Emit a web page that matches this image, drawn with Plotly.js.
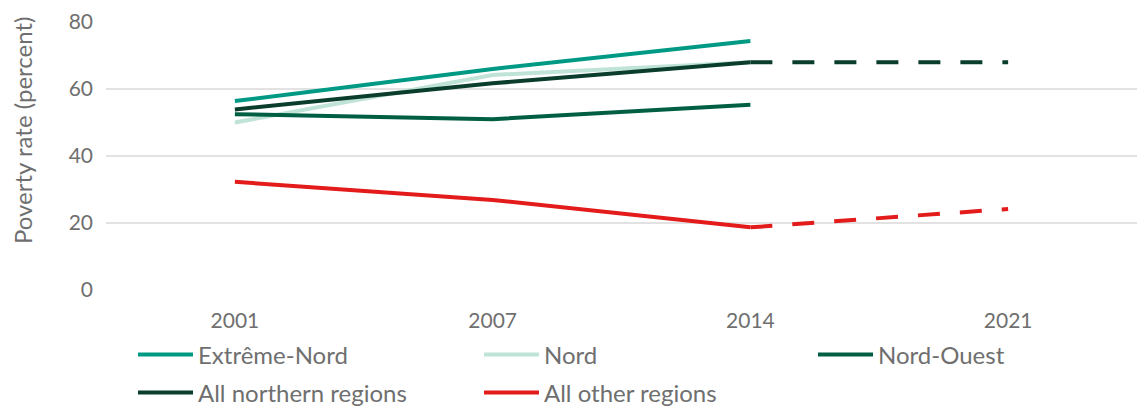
<!DOCTYPE html>
<html>
<head>
<meta charset="utf-8">
<script src="https://cdn.plot.ly/plotly-3.0.1.min.js"></script>
<style>html,body{margin:0;padding:0;background:#fff;}#chart{width:1137px;height:410px;}</style>
</head>
<body>
<div id="chart"></div>
<script>
const years = ['2001', '2007', '2014', '2021'];
const obsYears = ['2001', '2007', '2014'];
const projYears = ['2014', '2021'];
const extremeNord = [56.4, 66.0, 74.3];
const nord = [50.0, 64.2, 68.0];
const nordOuest = [52.5, 51.0, 55.3];
const allNorthern = [53.9, 61.7, 68.0];
const allOther = [32.3, 26.9, 18.7];
const allNorthernProj = [68.0, 68.0];
const allOtherProj = [18.7, 24.2];
const yTicks = [0, 20, 40, 60, 80];
const yTitle = 'Poverty rate (percent)';

const colors = {
  en: '#009a84', n: '#c0e3d7', no: '#005f43', an: '#0a3d2d', ao: '#e31b1b'
};
const lw = 4;
function solid(name, y, c, lg) {
  return {type: 'scatter', mode: 'lines', name: name, x: obsYears, y: y, legend: lg,
    line: {color: c, width: lw}, hoverinfo: 'skip'};
}
function dashed(y, c) {
  return {type: 'scatter', mode: 'lines', x: projYears, y: y, showlegend: false,
    line: {color: c, width: lw, dash: '22px,20px'}, hoverinfo: 'skip'};
}
const data = [
  solid('Extrême-Nord', extremeNord, colors.en, 'legend'),
  solid('Nord', nord, colors.n, 'legend'),
  solid('Nord-Ouest', nordOuest, colors.no, 'legend3'),
  solid('All northern regions', allNorthern, colors.an, 'legend2'),
  solid('All other regions', allOther, colors.ao, 'legend2'),
  dashed(allNorthernProj, colors.an),
  dashed(allOtherProj, colors.ao)
];
const fam = 'Lato, "Open Sans", sans-serif';
const font = {family: fam, size: 21, color: '#6f6f6f'};
const legendFont = {family: fam, size: 24, color: '#6f6f6f'};
function legendAt(xpx, ypx) {
  return {orientation: 'h', xref: 'container', yref: 'container',
    x: xpx / 1137, y: 1 - ypx / 410, xanchor: 'left', yanchor: 'middle',
    itemwidth: 55, entrywidth: 276, entrywidthmode: 'pixels', font: legendFont,
    bgcolor: 'rgba(0,0,0,0)', borderwidth: 0};
}
const layout = {
  width: 1137, height: 410,
  margin: {l: 106, r: 0, t: 22, b: 120},
  paper_bgcolor: '#fff', plot_bgcolor: '#fff',
  font: font,
  showlegend: true,
  xaxis: {type: 'category', categoryorder: 'array', categoryarray: years,
    range: [-0.5, 3.5], showgrid: false, zeroline: false, showline: false,
    ticks: '', ticklabelstandoff: 16, tickfont: font},
  yaxis: {range: [0, 80], tickvals: yTicks, showgrid: true, gridcolor: '#e2e2e2', gridwidth: 1.3,
    zeroline: false, showline: false, ticks: '', ticklabelstandoff: 12, tickfont: font},
  annotations: [{text: yTitle, textangle: -90, xref: 'paper', yref: 'paper',
    x: 0, xshift: -84, xanchor: 'center', y: (290 - 131) / 268, yanchor: 'middle',
    showarrow: false, font: {family: fam, size: 24, color: '#6f6f6f'}}],
  legend: legendAt(133, 355),
  legend3: legendAt(813, 355),
  legend2: legendAt(133, 393)
};
Plotly.newPlot('chart', data, layout, {displayModeBar: false, staticPlot: true});
</script>
</body>
</html>
